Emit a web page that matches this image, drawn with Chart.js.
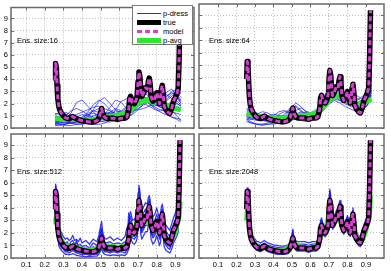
<!DOCTYPE html>
<html><head><meta charset="utf-8">
<script src="https://cdn.jsdelivr.net/npm/chart.js@4.4.0/dist/chart.umd.min.js"></script>
<style>
html,body{margin:0;padding:0;background:#fff;}
#wrap{position:relative;width:391px;height:271px;overflow:hidden;font-family:"Liberation Sans",Arial,sans-serif;}
#wrap canvas{position:absolute;left:0;top:0;}
.ens{position:absolute;font-size:7.5px;line-height:8px;color:#000;white-space:nowrap;}
#legend{position:absolute;left:132px;top:5px;width:61px;height:40px;background:#fff;border:1px solid #7a7a7a;box-sizing:border-box;font-size:7.5px;}
.row{position:absolute;left:0;height:9px;width:60px;}
.smp{position:absolute;left:4px;width:24px;}
.txt{position:absolute;left:30px;top:0;line-height:9px;color:#000;white-space:nowrap;}
</style></head>
<body>
<div id="wrap">
  <div id="legend">
    <div class="row" style="top:3px"><div class="smp" style="top:4px;height:1px;background:#2a2af0"></div><div class="txt">p-dress</div></div>
    <div class="row" style="top:12px"><div class="smp" style="top:2px;height:5px;background:#000"></div><div class="txt">true</div></div>
    <div class="row" style="top:21px"><div class="smp" style="top:3px;height:3px;background:repeating-linear-gradient(90deg,#d43fd4 0 5px,transparent 5px 8px)"></div><div class="txt">model</div></div>
    <div class="row" style="top:30px"><div class="smp" style="top:2px;height:5px;background:#2ee62e"></div><div class="txt">p-avg</div></div>
  </div>
</div>
<script>
// ---------- data ----------
const X_TICKS = [0.1,0.2,0.3,0.4,0.5,0.6,0.7,0.8,0.9];
const Y_TICKS = [0,1,2,3,4,5,6,7,8,9];

const X_TRUE = [0.255,0.258,0.262,0.266,0.27,0.275,0.28,0.29,0.30,0.31,0.32,0.33,0.34,0.35,0.36,0.37,0.38,0.39,0.40,0.42,0.44,0.46,0.48,0.49,0.50,0.505,0.51,0.52,0.53,0.55,0.57,0.59,0.61,0.63,0.64,0.65,0.655,0.66,0.67,0.68,0.69,0.695,0.70,0.705,0.71,0.715,0.72,0.73,0.74,0.75,0.755,0.76,0.765,0.77,0.78,0.79,0.80,0.81,0.815,0.82,0.825,0.83,0.835,0.84,0.85,0.86,0.87,0.88,0.89,0.90,0.91,0.915,0.92,0.925];
const Y_TRUE = [3.9,5.3,5.0,3.5,2.4,1.8,1.5,1.2,1.0,0.85,0.8,0.75,0.85,0.95,0.85,0.75,0.7,0.65,0.6,0.55,0.5,0.5,0.6,0.8,1.3,1.6,1.2,0.9,0.8,0.8,0.8,0.7,0.8,0.8,0.9,1.5,2.4,2.6,2.1,2.0,2.3,2.6,3.8,4.6,4.2,3.0,2.6,2.9,3.3,3.2,3.8,4.1,3.6,2.6,2.2,2.4,2.9,2.4,2.0,2.3,3.2,3.5,2.8,1.8,1.5,1.3,1.2,1.6,2.2,2.5,2.9,3.2,5.5,9.4];
const Y_MODEL = [3.9,5.3,5.0,3.5,2.4,1.8,1.5,1.2,1.0,0.85,0.8,0.75,0.85,0.95,0.85,0.75,0.7,0.65,0.6,0.55,0.5,0.5,0.6,0.8,1.3,1.6,1.2,0.9,0.8,0.8,0.8,0.7,0.8,0.8,0.9,1.5,2.4,2.6,2.1,2.0,2.3,2.6,3.8,4.6,4.2,3.0,2.6,2.9,3.3,3.2,3.8,4.1,3.6,2.6,2.2,2.4,2.9,2.4,2.0,2.3,3.2,3.5,2.8,1.8,1.5,1.3,1.2,1.6,2.2,2.5,2.9,3.2,5.5,9.4];

const X_COARSE = [0.255,0.28,0.31,0.34,0.37,0.40,0.43,0.46,0.49,0.52,0.55,0.58,0.61,0.64,0.67,0.70,0.73,0.76,0.79,0.82,0.85,0.88,0.91,0.93];

const PDRESS_16 = [
 [0.6,0.5,0.4,0.4,0.5,0.6,0.8,1.0,1.1,0.9,0.8,0.9,1.2,1.5,1.9,2.4,2.6,2.3,1.9,1.7,1.6,1.8,2.0,1.8],
 [1.0,0.9,0.8,1.2,2.1,2.3,1.8,1.3,1.0,0.9,1.1,1.4,1.3,1.2,1.6,2.2,3.0,3.4,2.8,2.2,1.9,2.1,2.6,2.2],
 [0.3,0.3,0.2,0.2,0.3,0.4,0.5,0.5,0.6,0.8,1.0,1.1,0.9,1.0,1.5,2.0,2.4,2.0,1.6,1.3,1.1,0.9,0.8,0.7],
 [0.8,1.0,1.3,1.1,0.8,0.7,0.9,1.5,2.2,2.5,2.0,1.5,1.2,1.3,1.8,2.6,3.2,3.0,2.4,2.0,2.3,2.8,3.0,2.5],
 [0.2,0.2,0.3,0.5,0.7,0.6,0.4,0.3,0.3,0.4,0.6,0.9,1.1,1.3,1.4,1.6,1.9,2.2,2.4,2.2,1.8,1.4,1.0,0.6],
 [1.2,1.1,0.9,0.7,0.6,0.7,1.0,1.4,1.6,1.3,1.0,0.8,0.9,1.2,1.9,2.8,3.5,3.2,2.5,2.0,1.6,1.5,1.6,1.5],
 [0.5,0.6,0.7,0.9,1.1,1.3,1.5,1.7,1.8,1.6,1.4,1.2,1.0,0.9,1.1,1.5,2.0,2.5,2.9,3.1,2.8,2.4,2.0,1.8],
 [0.4,0.3,0.3,0.4,0.5,0.8,1.2,1.4,1.3,1.0,0.9,1.5,2.2,2.4,2.0,1.8,2.2,2.7,2.5,2.1,2.2,2.6,3.1,2.8],
 [0.9,0.7,0.5,0.4,0.4,0.5,0.6,0.6,0.7,0.9,1.3,1.6,1.4,1.1,1.3,2.0,2.3,2.0,1.7,1.5,1.4,1.3,1.2,1.1],
 [0.7,0.8,1.0,1.4,1.6,1.4,1.1,0.9,0.8,1.1,1.7,2.3,2.1,1.6,1.8,2.5,3.0,2.8,2.2,1.9,1.8,2.0,2.4,2.1],
 [0.3,0.4,0.6,0.6,0.5,0.4,0.4,0.6,0.9,1.2,1.2,1.0,0.8,0.8,1.2,1.8,2.0,1.8,1.5,1.4,1.6,1.9,2.2,1.9],
 [1.1,1.3,1.2,0.9,0.7,0.8,1.1,1.2,1.0,0.7,0.6,0.7,1.0,1.6,2.2,2.6,2.4,2.0,1.8,2.0,2.5,3.0,3.2,2.9],
 [0.5,0.4,0.4,0.6,0.9,1.1,1.0,0.8,0.6,0.5,0.5,0.6,0.8,1.1,1.4,1.5,1.6,1.8,2.0,1.8,1.3,0.9,0.7,0.5],
 [0.8,0.7,0.6,0.5,0.6,0.9,1.3,1.9,2.3,2.0,1.5,1.1,1.2,1.5,2.1,2.9,3.3,3.0,2.6,2.4,2.6,2.9,2.7,2.3],
 [0.6,0.8,0.9,0.8,0.6,0.5,0.5,0.7,1.0,1.2,1.3,1.2,1.4,1.8,2.0,2.2,2.5,2.4,2.1,1.7,1.5,1.6,1.8,1.6],
 [0.4,0.5,0.5,0.4,0.3,0.3,0.4,0.5,0.5,0.6,0.8,1.0,1.3,1.7,2.2,2.7,2.9,2.6,2.3,2.5,2.9,3.2,2.6,2.0]
];
const PDRESS_64 = [
 [1.0,0.9,0.7,0.6,0.6,0.7,0.8,0.9,1.0,1.0,0.9,0.8,0.9,1.3,2.0,2.6,2.8,2.5,2.2,2.1,1.9,2.0,2.6,3.5],
 [1.4,1.2,1.0,0.8,0.7,0.6,0.6,0.7,1.2,1.8,1.4,1.0,0.8,1.0,1.8,2.9,3.3,2.9,2.3,1.9,1.6,1.8,2.4,3.0],
 [0.7,0.5,0.3,0.3,0.4,0.6,1.1,1.3,1.2,1.0,0.8,0.7,0.8,1.1,1.6,2.1,2.4,2.7,2.5,2.0,1.7,1.9,2.8,4.2],
 [1.2,1.3,1.2,1.0,0.8,0.6,0.5,0.5,0.6,0.8,1.1,1.3,1.2,1.2,2.2,3.2,3.0,2.6,2.2,2.3,2.0,1.7,2.0,2.6],
 [0.9,0.8,0.8,0.9,1.0,1.1,1.0,0.8,0.7,0.7,0.8,0.9,1.0,1.2,1.7,2.3,2.6,2.3,1.9,1.8,2.2,2.5,3.0,3.8],
 [1.6,1.3,0.9,0.6,0.5,0.5,0.6,0.9,1.5,2.0,1.7,1.2,1.0,1.2,1.9,2.5,2.9,3.1,2.6,2.0,1.6,1.5,1.9,2.4],
 [0.8,0.7,0.6,0.6,0.7,0.9,1.0,1.0,0.9,0.8,0.7,0.8,1.1,1.4,2.3,3.4,3.0,2.5,2.0,1.7,1.8,2.2,2.5,3.0],
 [1.1,1.0,1.1,1.3,1.2,0.9,0.7,0.6,0.7,1.0,1.2,1.1,0.9,1.1,1.6,2.0,2.3,2.2,2.0,2.4,2.6,2.3,2.2,2.8],
 [0.6,0.4,0.3,0.2,0.3,0.4,0.5,0.7,1.0,1.4,1.6,1.3,1.0,1.1,2.0,2.8,3.4,3.0,2.4,2.1,1.7,1.4,1.8,3.2],
 [1.3,1.1,1.0,0.9,0.9,0.8,0.8,0.9,1.1,1.2,1.1,1.0,1.2,1.6,2.1,2.4,2.6,2.6,2.3,2.0,1.8,2.0,2.7,4.5],
 [0.9,0.8,0.7,0.7,0.8,1.0,1.3,1.4,1.2,0.9,0.8,0.9,1.0,1.3,2.5,3.0,2.7,2.8,2.6,2.2,1.9,1.7,2.3,3.4],
 [1.0,1.1,0.9,0.7,0.6,0.6,0.7,0.7,0.8,0.9,1.0,1.0,0.9,1.0,1.7,2.6,3.2,3.4,2.7,1.9,1.6,1.9,2.5,3.0],
 [1.5,1.2,0.8,0.7,0.8,0.9,0.9,0.8,0.8,1.1,1.3,1.2,1.1,1.5,1.9,2.2,2.5,2.2,2.1,2.3,2.4,2.1,2.1,2.6],
 [0.7,0.7,0.8,0.8,0.7,0.7,0.8,1.1,1.6,1.7,1.3,1.0,0.9,1.2,2.1,3.0,3.1,2.8,2.3,2.1,2.0,2.2,3.0,3.9],
 [0.5,0.4,0.3,0.3,0.3,0.3,0.4,0.5,0.6,0.7,0.6,0.5,0.6,0.9,1.4,1.9,2.2,2.0,1.7,1.5,1.3,1.4,1.9,2.9]
];
const PDRESS_512 = [
 [4.3,5.7,5.2,3.9,2.9,2.2,1.9,1.6,1.4,1.2, 1.3,1.0,1.3,1.4,1.1,1.2,1.0,1.1,0.9,1.0, 0.8,1.2,1.0,1.4,2.0,2.4,1.7,1.3,1.2,1.3, 1.1,1.2,1.1,1.3,1.4,2.2,3.0,3.3,2.6,2.6, 2.8,3.3,4.6,5.6,4.9,3.8,3.2,3.6,3.9,3.8, 4.4,4.7,4.1,3.2,2.8,3.0,3.5,2.9,2.6,2.9, 3.7,3.9,3.3,2.4,2.1,1.9,1.7,2.2,2.7,3.1, 3.5,3.9,6.0,8.0],
 [3.4,4.6,4.4,2.9,1.9,1.3,1.1,0.8,0.7,0.5, 0.5,0.4,0.5,0.6,0.5,0.4,0.4,0.3,0.3,0.3, 0.2,0.3,0.3,0.5,0.9,1.1,0.8,0.5,0.5,0.4, 0.5,0.4,0.5,0.4,0.6,1.0,1.8,2.0,1.6,1.5, 1.7,2.0,3.0,3.7,3.5,2.4,2.0,2.3,2.6,2.6, 3.1,3.4,3.0,2.0,1.6,1.8,2.3,1.8,1.5,1.7, 2.6,2.9,2.2,1.3,1.0,0.8,0.7,1.1,1.6,2.0, 2.3,2.6,4.8,8.6],
 [3.7,5.0,5.4,3.7,2.3,2.0,1.3,1.4,0.9,1.0, 0.7,0.9,0.7,1.1,0.8,0.9,0.6,0.8,0.5,0.7, 0.4,0.6,0.5,0.9,1.5,1.9,1.0,1.1,0.7,1.0, 0.7,0.9,0.7,1.0,1.1,2.8,2.2,2.9,1.9,2.3, 2.1,2.9,3.6,5.0,3.9,3.3,2.4,3.2,3.0,3.6, 3.5,4.5,3.4,2.9,2.0,2.7,2.7,2.6,1.8,2.6, 3.0,3.8,2.5,2.0,1.3,1.5,1.0,1.8,2.0,2.8, 2.7,3.5,5.2,9.0],
 [4.1,5.5,4.8,3.3,2.6,1.6,1.7,1.1,1.2,0.7, 1.0,0.6,1.0,0.8,1.0,0.6,0.9,0.5,0.8,0.4, 0.7,0.4,0.8,0.6,1.1,1.4,1.4,0.7,1.0,0.6, 1.0,0.6,1.0,0.7,0.8,3.6,2.7,2.3,2.4,1.8, 2.5,2.4,4.1,4.3,4.5,2.8,2.9,2.6,3.5,2.9, 4.0,3.8,3.9,2.4,2.5,2.2,3.1,2.2,2.3,2.1, 3.4,3.3,3.0,1.6,1.8,1.1,1.4,1.4,2.4,2.3, 3.1,3.0,5.8,8.8],
 [3.9,5.2,4.6,3.6,2.1,1.9,1.6,1.3,1.1,0.9, 0.9,0.8,0.9,1.0,0.9,1.4,0.8,0.7,0.7,0.6, 0.6,0.9,0.7,1.1,2.3,1.7,1.3,1.0,0.9,0.9, 0.9,0.8,0.8,0.9,1.2,1.7,2.5,2.7,2.2,2.1, 2.4,2.7,4.0,4.8,4.3,3.1,2.7,3.0,3.4,3.3, 3.9,4.2,3.7,2.7,2.3,2.5,3.0,2.5,2.1,2.4, 3.3,3.6,2.9,1.9,1.6,1.4,1.3,1.7,2.3,2.6, 3.0,3.3,5.6,9.2],
 [3.2,4.9,4.2,3.0,2.2,1.5,1.2,1.0,0.8,0.6, 0.6,0.6,0.7,0.7,0.6,0.5,0.5,0.5,0.4,0.4, 0.3,0.4,0.4,0.6,1.0,1.3,1.0,0.6,0.6,0.5, 0.6,0.5,0.6,0.6,0.7,1.2,2.0,2.2,1.8,1.7, 2.0,2.2,3.3,4.0,3.8,2.6,2.2,2.5,2.9,2.8, 3.4,3.7,3.2,2.2,1.8,2.0,2.5,2.0,1.7,1.9, 2.8,3.1,2.4,1.5,1.2,1.0,0.9,1.3,1.8,2.2, 2.5,2.8,5.0,8.2],
 [4.6,5.9,5.6,4.3,3.2,2.6,2.3,2.0,1.7,1.5, 1.6,1.4,1.5,1.8,1.4,1.5,1.3,1.6,1.2,1.4, 1.1,1.5,1.3,1.8,2.6,2.9,2.1,1.6,1.5,1.7, 1.4,1.6,1.4,1.7,2.4,2.7,3.4,3.7,3.0,3.1, 3.3,3.8,5.2,5.8,5.3,4.3,3.7,4.1,4.4,4.3, 4.8,5.0,4.6,3.7,3.3,3.5,4.0,3.4,3.1,3.4, 4.1,4.3,3.8,2.9,2.6,2.4,2.2,2.7,3.2,3.6, 4.0,4.5,6.5,7.5],
 [3.0,4.3,4.0,2.6,1.6,1.0,0.8,0.6,0.45,0.3, 0.3,0.25,0.3,0.35,0.3,0.2,0.2,0.15,0.15,0.1, 0.1,0.15,0.15,0.3,0.6,0.8,0.5,0.3,0.25,0.2, 0.25,0.2,0.25,0.2,0.35,0.7,1.4,1.6,1.2,1.1, 1.3,1.6,2.5,3.2,3.0,1.9,1.5,1.8,2.1,2.1, 2.6,2.9,2.5,1.5,1.1,1.3,1.8,1.3,1.0,1.2, 2.1,2.4,1.7,0.9,0.6,0.5,0.4,0.7,1.2,1.5, 1.8,2.1,4.2,8.0]
];
const PDRESS_2048 = [
 [4.1,5.5,5.2,3.8,2.7,2.1,1.8,1.5,1.3,1.1, 1.1,1.0,1.1,1.2,1.1,1.0,1.0,0.9,0.9,0.85, 0.8,0.8,0.9,1.1,1.7,2.1,1.5,1.2,1.1,1.1, 1.1,1.0,1.1,1.1,1.2,1.9,2.8,3.0,2.4,2.3, 2.6,3.0,4.3,5.3,4.6,3.4,2.9,3.2,3.6,3.5, 4.2,4.4,3.9,2.9,2.5,2.7,3.2,2.7,2.3,2.6, 3.5,3.8,3.1,2.1,1.8,1.6,1.5,1.9,2.5,2.8, 3.2,3.5,5.8,9.2],
 [3.7,5.0,4.7,3.2,2.1,1.5,1.2,0.95,0.75,0.6, 0.55,0.5,0.6,0.7,0.6,0.5,0.45,0.4,0.35,0.3, 0.3,0.3,0.35,0.55,1.0,1.3,0.95,0.65,0.55,0.55, 0.55,0.45,0.55,0.55,0.65,1.2,2.1,2.3,1.8,1.7, 2.0,2.3,3.4,4.2,3.9,2.7,2.3,2.6,3.0,2.9, 3.5,3.8,3.3,2.3,1.9,2.1,2.6,2.1,1.7,2.0, 2.9,3.2,2.5,1.5,1.2,1.0,0.9,1.3,1.9,2.2, 2.6,2.9,5.2,9.0],
 [3.9,5.2,5.1,3.4,2.5,1.7,1.6,1.1,1.1,0.8, 0.9,0.7,0.9,0.9,0.9,0.7,0.8,0.6,0.7,0.5, 0.6,0.5,0.7,0.8,1.4,1.5,1.3,0.9,0.9,0.8, 0.9,0.7,0.9,0.8,1.0,1.6,2.4,2.7,2.1,2.1, 2.3,2.7,3.7,4.9,4.1,3.1,2.5,3.0,3.2,3.3, 3.7,4.2,3.5,2.7,2.1,2.5,2.8,2.5,1.9,2.4, 3.1,3.6,2.7,1.9,1.4,1.4,1.1,1.7,2.1,2.6, 2.8,3.3,5.4,9.3],
 [4.3,5.6,5.4,4.0,2.9,2.3,2.0,1.7,1.5,1.3, 1.3,1.2,1.3,1.4,1.3,1.2,1.15,1.1,1.05,1.0, 0.95,0.95,1.05,1.3,1.9,2.3,1.7,1.4,1.3,1.3, 1.3,1.2,1.3,1.3,1.4,2.1,3.0,3.2,2.6,2.5, 2.8,3.2,4.5,5.5,4.8,3.6,3.1,3.4,3.8,3.7, 4.4,4.6,4.1,3.1,2.7,2.9,3.4,2.9,2.5,2.8, 3.7,4.0,3.3,2.3,2.0,1.8,1.7,2.1,2.7,3.0, 3.4,3.7,6.0,9.2]
];

const X_AVG_COARSE = [0.255,0.28,0.30,0.35,0.40,0.45,0.50,0.55,0.60,0.65,0.70,0.72,0.75,0.78,0.80,0.85,0.88,0.90,0.93];
const AVG_16 = [0.8,0.75,0.7,0.7,0.65,0.65,0.85,0.95,1.1,1.3,2.0,2.2,2.3,2.1,2.2,1.9,1.7,1.6,1.5];
const AVG_64 = [1.2,1.05,0.95,0.85,0.8,0.8,0.95,1.0,1.05,1.4,2.2,2.5,2.6,2.3,2.2,1.9,2.0,2.1,2.3];
const X_AVG_FINE = [0.255,0.26,0.27,0.28,0.30,0.33,0.36,0.40,0.45,0.50,0.52,0.55,0.60,0.64,0.66,0.68,0.70,0.72,0.75,0.78,0.80,0.82,0.84,0.86,0.88,0.90,0.92,0.925];
const AVG_512 = [2.7,3.2,2.4,1.7,1.1,0.9,0.85,0.7,0.6,0.9,1.0,0.95,0.85,1.0,1.9,2.2,3.0,3.0,3.0,2.3,2.4,2.3,1.9,1.4,1.5,2.1,3.3,4.5];
const AVG_2048 = [3.0,4.2,2.5,1.6,1.0,0.8,0.85,0.65,0.55,1.0,1.0,0.85,0.8,0.95,2.1,2.1,3.4,3.0,3.2,2.4,2.6,2.4,2.0,1.4,1.4,2.2,3.6,5.0];

const ENS_LABELS = ['Ens. size:16','Ens. size:64','Ens. size:512','Ens. size:2048'];

// ---------- styles / layout ----------
const BLUE = 'rgba(20,20,240,0.85)', GREEN = '#2ee62e', MAGENTA = '#d43fd4';
const FONT = '"Liberation Sans", Arial, sans-serif';
const PANELS = [
 {area:[11,4,194,128],   xr:[0.019,1.0],   left:true,  bottom:false, bx:X_COARSE, blue:PDRESS_16,  gx:X_AVG_COARSE, gy:AVG_16,  lab:[17,37],  bw:0.8},
 {area:[199,4,384,128],  xr:[-0.003,0.998],left:false, bottom:false, bx:X_COARSE, blue:PDRESS_64,  gx:X_AVG_COARSE, gy:AVG_64,  lab:[209,37], bw:0.8},
 {area:[11,134,194,258], xr:[0.019,1.0],   left:true,  bottom:true,  bx:X_TRUE,   blue:PDRESS_512, gx:X_AVG_FINE,   gy:AVG_512, lab:[17,168], bw:1.3},
 {area:[199,134,384,258],xr:[-0.003,0.998],left:false, bottom:true,  bx:X_TRUE,   blue:PDRESS_2048,gx:X_AVG_FINE,   gy:AVG_2048,lab:[209,168],bw:1.3}
];

const boxPlugin = {
  id:'matlabBox',
  afterDraw(chart){
    const {ctx, chartArea:a, scales:{x,y}} = chart;
    ctx.save();
    ctx.strokeStyle = '#6a6a6a'; ctx.lineWidth = 1;
    ctx.beginPath();
    const L = 3;
    X_TICKS.forEach(v=>{const p=Math.round(x.getPixelForValue(v))+0.5; ctx.moveTo(p,a.bottom); ctx.lineTo(p,a.bottom-L); ctx.moveTo(p,a.top); ctx.lineTo(p,a.top+L);});
    Y_TICKS.forEach(v=>{const p=Math.round(y.getPixelForValue(v))+0.5; ctx.moveTo(a.left,p); ctx.lineTo(a.left+L,p); ctx.moveTo(a.right,p); ctx.lineTo(a.right-L,p);});
    ctx.stroke();
    ctx.lineWidth = 1.5;
    ctx.strokeRect(a.left, a.top, a.right-a.left, a.bottom-a.top);
    ctx.restore();
  }
};

const wrap = document.getElementById('wrap');
const legendEl = document.getElementById('legend');
PANELS.forEach((p,i)=>{
  const cv = document.createElement('canvas');
  cv.width = 391; cv.height = 271;
  wrap.insertBefore(cv, legendEl);
  const [L,T,R,B] = p.area;
  const yW = p.left ? L : 0;
  const xH = p.bottom ? 271-B : 0;
  const ds = [];
  p.blue.forEach(arr=>ds.push({data:p.bx.map((x,k)=>({x, y:arr[k]})), borderColor:BLUE, borderWidth:p.bw, order:3}));
  ds.push({data:p.gx.map((x,k)=>({x, y:p.gy[k]})), borderColor:GREEN, borderWidth:5, order:2});
  ds.push({data:X_TRUE.map((x,k)=>({x, y:Y_TRUE[k]})), borderColor:'#000', borderWidth:5.5, order:1});
  ds.push({data:X_TRUE.map((x,k)=>({x, y:Y_MODEL[k]})), borderColor:MAGENTA, borderWidth:3, borderDash:[5,3], order:0});
  new Chart(cv, {
    type:'line',
    data:{datasets:ds},
    options:{
      responsive:false, animation:false, devicePixelRatio:1,
      layout:{padding:{left:L-yW, top:T, right:391-R, bottom:271-B-xH}},
      plugins:{legend:{display:false}, tooltip:{enabled:false}},
      elements:{point:{radius:0}, line:{tension:0, fill:false, borderJoinStyle:'round'}},
      datasets:{line:{clip:0}},
      scales:{
        x:{type:'linear', min:p.xr[0], max:p.xr[1],
           afterFit:s=>{s.height=xH;},
           afterBuildTicks:s=>{s.ticks = X_TICKS.map(v=>({value:v}));},
           grid:{color:'#bdbdbd', lineWidth:1, drawTicks:false},
           border:{display:false, dash:[1,2]},
           ticks:{display:p.bottom, padding:2, color:'#000', font:{family:FONT, size:7.5}, maxRotation:0, autoSkip:false, callback:v=>v.toFixed(1)}},
        y:{type:'linear', min:0, max:9.9,
           afterFit:s=>{s.width=yW;},
           afterBuildTicks:s=>{s.ticks = Y_TICKS.map(v=>({value:v}));},
           grid:{color:'#bdbdbd', lineWidth:1, drawTicks:false},
           border:{display:false, dash:[1,2]},
           ticks:{display:p.left, padding:3, color:'#000', font:{family:FONT, size:7.5}, autoSkip:false}}
      }
    },
    plugins:[boxPlugin]
  });
  const d = document.createElement('div');
  d.className = 'ens';
  d.style.left = p.lab[0]+'px'; d.style.top = p.lab[1]+'px';
  d.textContent = ENS_LABELS[i];
  wrap.insertBefore(d, legendEl);
});
</script>
</body></html>
